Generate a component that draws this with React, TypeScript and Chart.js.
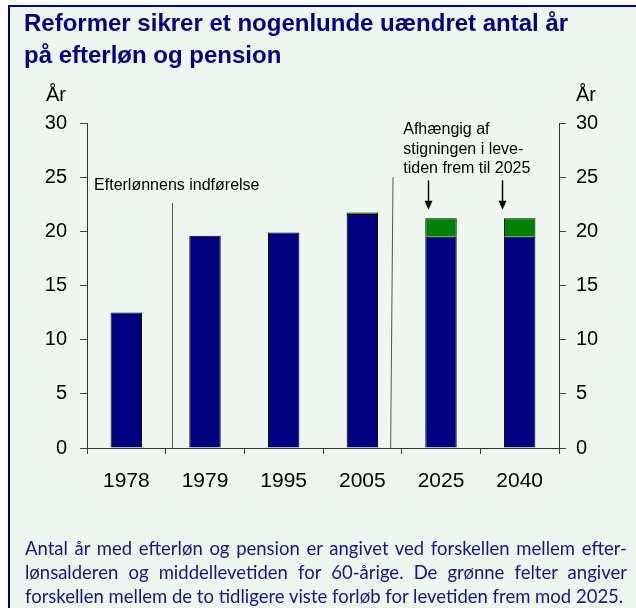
import React, { useEffect, useRef } from 'react';
import { Chart, registerables } from 'chart.js';

Chart.register(...registerables);

// ---- data ----
const categories = ['1978', '1979', '1995', '2005', '2025', '2040'];
const baseYears = [12.5, 19.6, 19.9, 21.6, 19.5, 19.5];
const extraYears: (number | null)[] = [null, null, null, 0.15, 1.7, 1.7];
const yMin = 0;
const yMax = 30;
const yStep = 5;

const titleLines = ['Reformer sikrer et nogenlunde uændret antal år', 'på efterløn og pension'];
const axisUnit = 'År';
const introLabel = 'Efterlønnens indførelse';
const noteLines = ['Afhængig af', 'stigningen i leve-', 'tiden frem til 2025'];
const captionLines = [
  'Antal år med efterløn og pension er angivet ved forskellen mellem efter-',
  'lønsalderen og middellevetiden for 60-årige. De grønne felter angiver',
  'forskellen mellem de to tidligere viste forløb for levetiden frem mod 2025.',
];

const FONT = '"Liberation Sans", Arial, Helvetica, sans-serif';

const annotPlugin = {
  id: 'annot',
  afterDatasetsDraw(chart: any) {
    const ctx = chart.ctx as CanvasRenderingContext2D;
    const xs = chart.scales.x;
    const ys = chart.scales.y;
    const px = (v: number) => xs.getPixelForValue(v);
    const py = (v: number) => ys.getPixelForValue(v);
    ctx.save();
    // unit labels
    ctx.fillStyle = '#000';
    ctx.font = `20px ${FONT}`;
    ctx.textBaseline = 'middle';
    ctx.textAlign = 'left';
    ctx.fillText(axisUnit, 46, py(yMax) - 28);
    ctx.fillText(axisUnit, chart.chartArea.right + 17, py(yMax) - 28);

    // separator lines
    ctx.strokeStyle = '#555';
    ctx.lineWidth = 1;
    ctx.beginPath();
    ctx.moveTo(Math.round(px(0.58)) + 0.5, py(22.6));
    ctx.lineTo(Math.round(px(0.58)) + 0.5, py(0));
    ctx.moveTo(px(3.39), py(25.0));
    ctx.lineTo(px(3.36), py(0));
    ctx.stroke();

    // texts
    ctx.font = `16px ${FONT}`;
    ctx.textBaseline = 'alphabetic';
    ctx.fillText(introLabel, px(-0.41), py(23.8));
    const noteBase = [29.0, 27.15, 25.4];
    noteLines.forEach((t, i) => ctx.fillText(t, px(3.52), py(noteBase[i])));

    // arrows
    ctx.strokeStyle = '#000';
    ctx.fillStyle = '#000';
    ctx.lineWidth = 1.5;
    [3.84, 4.77].forEach((v) => {
      const x = Math.round(px(v)) + 0.5;
      const y0 = py(24.7);
      const y1 = py(22.0);
      ctx.beginPath();
      ctx.moveTo(x, y0);
      ctx.lineTo(x, y1 - 8);
      ctx.stroke();
      ctx.beginPath();
      ctx.moveTo(x - 4, y1 - 9);
      ctx.lineTo(x + 4, y1 - 9);
      ctx.lineTo(x, y1);
      ctx.closePath();
      ctx.fill();
    });
    ctx.restore();
  },
};

export default function App() {
  const ref = useRef<HTMLCanvasElement>(null);

  useEffect(() => {
    const tickFontY = { family: FONT, size: 20 };
    const tickFontX = { family: FONT, size: 21 };
    const chart = new Chart(ref.current!, {
      type: 'bar',
      data: {
        labels: categories,
        datasets: [
          {
            data: baseYears,
            backgroundColor: '#000080',
            borderColor: '#000',
            borderWidth: 1,
            barPercentage: 0.4,
            categoryPercentage: 1,
          },
          {
            data: extraYears as any,
            backgroundColor: '#008000',
            borderColor: '#000',
            borderWidth: 1,
            barPercentage: 0.4,
            categoryPercentage: 1,
          },
        ],
      },
      options: {
        animation: false,
        responsive: false,
        maintainAspectRatio: false,
        devicePixelRatio: 1,
        layout: { padding: { top: 123, left: 0, right: 0, bottom: 0 } },
        plugins: { legend: { display: false }, tooltip: { enabled: false } },
        scales: {
          x: {
            stacked: true,
            grid: { offset: true, drawOnChartArea: false, tickLength: 6, color: '#444' },
            border: { color: '#333' },
            ticks: { font: tickFontX, color: '#000', padding: 15, maxRotation: 0 },
            afterFit: (s: any) => {
              s.height = 160;
            },
          },
          y: {
            stacked: true,
            position: 'left',
            min: yMin,
            max: yMax,
            ticks: { stepSize: yStep, font: tickFontY, color: '#000', padding: 13 },
            grid: { drawOnChartArea: false, tickLength: 7, color: '#444' },
            border: { color: '#333' },
            afterFit: (s: any) => {
              s.width = 87;
            },
          },
          y2: {
            position: 'right',
            min: yMin,
            max: yMax,
            ticks: { stepSize: yStep, font: tickFontY, color: '#000', padding: 10 },
            grid: { drawOnChartArea: false, tickLength: 7, color: '#444' },
            border: { color: '#333' },
            afterFit: (s: any) => {
              s.width = 77;
            },
          },
        },
      } as any,
      plugins: [annotPlugin],
    });
    return () => chart.destroy();
  }, []);

  return (
    <div
      style={{
        position: 'fixed',
        left: 0,
        top: 0,
        width: 636,
        height: 608,
        background: '#fff',
        overflow: 'hidden',
      }}
    >
      <div
        style={{
          position: 'absolute',
          left: 8,
          top: 5,
          width: 640,
          height: 620,
          background: '#EEF6EF',
          borderTop: '2px solid #00008B',
          borderLeft: '2px solid #00008B',
        }}
      />
      <canvas
        ref={ref}
        width={636}
        height={608}
        style={{ position: 'absolute', left: 0, top: 0, width: 636, height: 608 }}
      />
      <div
        style={{
          position: 'absolute',
          left: 24,
          top: 7,
          font: `bold 24px ${FONT}`,
          lineHeight: '32px',
          color: '#000080',
          whiteSpace: 'nowrap',
        }}
      >
        {titleLines.map((t) => (
          <div key={t}>{t}</div>
        ))}
      </div>
      <div
        style={{
          position: 'absolute',
          left: 25,
          top: 536,
          width: 602,
          font: '18.5px Lato, "Open Sans", sans-serif',
          lineHeight: '24px',
          color: '#16168a',
        }}
      >
        {captionLines.map((t, i) => (
          <div
            key={i}
            style={{
              textAlign: i < captionLines.length - 1 ? 'justify' : 'left',
              textAlignLast: i < captionLines.length - 1 ? 'justify' : 'left',
              whiteSpace: 'nowrap',
            }}
          >
            {t}
          </div>
        ))}
      </div>
    </div>
  );
}
